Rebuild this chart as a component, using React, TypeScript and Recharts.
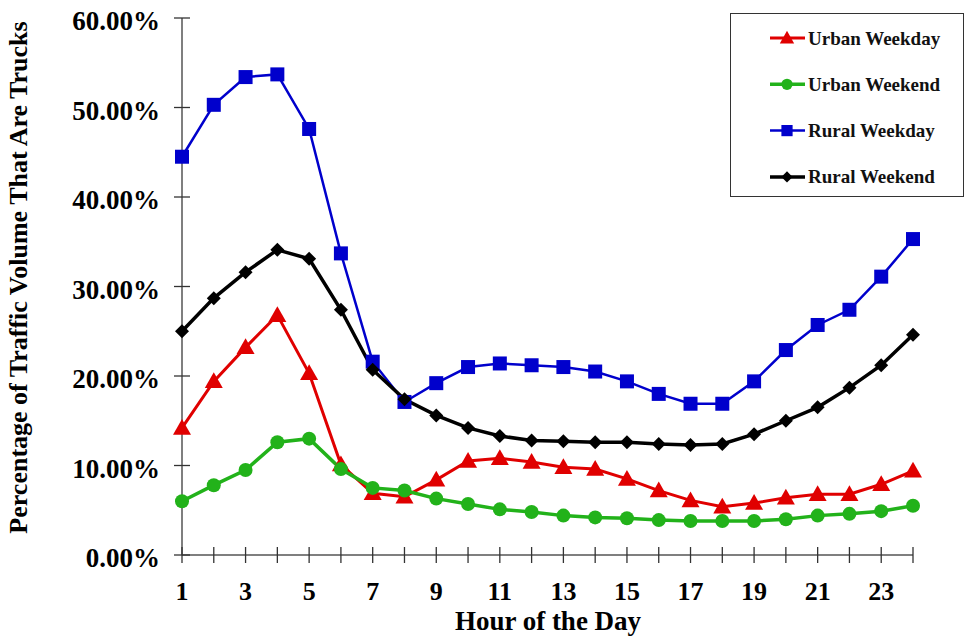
import React from 'react';
import { LineChart, Line, XAxis, YAxis } from 'recharts';

const hours = [1,2,3,4,5,6,7,8,9,10,11,12,13,14,15,16,17,18,19,20,21,22,23,24];
const urbanWeekday = [14.2,19.4,23.2,26.8,20.3,10.1,6.9,6.5,8.4,10.5,10.8,10.4,9.8,9.6,8.5,7.2,6.1,5.4,5.8,6.4,6.8,6.8,7.9,9.4];
const urbanWeekend = [6.0,7.8,9.5,12.6,13.0,9.6,7.5,7.2,6.3,5.7,5.1,4.8,4.4,4.2,4.1,3.9,3.8,3.8,3.8,4.0,4.4,4.6,4.9,5.5];
const ruralWeekday = [44.5,50.3,53.4,53.7,47.6,33.7,21.6,17.1,19.2,21.0,21.4,21.2,21.0,20.5,19.4,18.0,16.9,16.9,19.4,22.9,25.7,27.4,31.1,35.3];
const ruralWeekend = [25.0,28.7,31.6,34.1,33.1,27.4,20.7,17.4,15.6,14.2,13.3,12.8,12.7,12.6,12.6,12.4,12.3,12.4,13.5,15.0,16.5,18.7,21.2,24.6];
const yTicks = [0,10,20,30,40,50,60];

const data = hours.map((h, i) => ({
  hour: h,
  uwd: urbanWeekday[i],
  uwe: urbanWeekend[i],
  rwd: ruralWeekday[i],
  rwe: ruralWeekend[i],
}));

const FONT = '"Liberation Serif", "Times New Roman", serif';
const RED = '#e00000';
const GREEN = '#22b21a';
const BLUE = '#0000cc';
const BLACK = '#000000';

const Marker = ({ kind, cx, cy, color }: any) => {
  if (cx == null || cy == null) return null;
  if (kind === 'tri') {
    const s = 9;
    return <polygon points={`${cx},${cy - s} ${cx + s},${cy + s * 0.75} ${cx - s},${cy + s * 0.75}`} fill={color} />;
  }
  if (kind === 'circle') return <circle cx={cx} cy={cy} r={7} fill={color} />;
  if (kind === 'square') return <rect x={cx - 7} y={cy - 7} width={14} height={14} fill={color} />;
  const d = 7;
  return <polygon points={`${cx},${cy - d} ${cx + d},${cy} ${cx},${cy + d} ${cx - d},${cy}`} fill={color} />;
};

const mkDot = (kind: string, color: string) => (props: any) => (
  <Marker key={`${kind}-${props.index}`} kind={kind} cx={props.cx} cy={props.cy} color={color} />
);

const XTick = (props: any) => {
  const { x, y, payload } = props;
  const v = payload.value;
  return (
    <g>
      <line x1={x} x2={x} y1={y - 8} y2={y + 8} stroke="#333" strokeWidth={1.3} />
      {v % 2 === 1 && (
        <text x={x} y={y + 45} textAnchor="middle" fontFamily={FONT} fontWeight="bold" fontSize={26} fill="#000">
          {v}
        </text>
      )}
    </g>
  );
};

const YTick = (props: any) => {
  const { x, y, payload } = props;
  return (
    <g>
      <line x1={x - 8} x2={x + 8} y1={y} y2={y} stroke="#333" strokeWidth={1.3} />
      <text x={x - 22} y={y + 12} textAnchor="end" fontFamily={FONT} fontWeight="bold" fontSize={27} fill="#000">
        {payload.value.toFixed(2)}%
      </text>
    </g>
  );
};

const YTitle = () => (
  <text transform="translate(27 277.5) rotate(-90)" textAnchor="middle" fontFamily={FONT} fontWeight="bold" fontSize={26} fill="#000">
    Percentage of Traffic Volume That Are Trucks
  </text>
);

const XTitle = () => (
  <text x={548} y={630} textAnchor="middle" fontFamily={FONT} fontWeight="bold" fontSize={27} fill="#000">
    Hour of the Day
  </text>
);

const legendItems = [
  { label: 'Urban Weekday', kind: 'tri', color: RED, w: 3 },
  { label: 'Urban Weekend', kind: 'circle', color: GREEN, w: 3.5 },
  { label: 'Rural Weekday', kind: 'square', color: BLUE, w: 2.5 },
  { label: 'Rural Weekend', kind: 'diamond', color: BLACK, w: 3.5 },
];

const LegendBox = () => (
  <svg width={234} height={184} style={{ display: 'block' }}>
    <rect x={0.5} y={0.5} width={233} height={183} fill="#fff" stroke="#333" strokeWidth={1} />
    {legendItems.map((it, i) => {
      const cy = 25 + i * 46.3;
      return (
        <g key={it.label}>
          <line x1={40} x2={75} y1={cy} y2={cy} stroke={it.color} strokeWidth={it.w} />
          <g transform={`translate(57 ${cy}) scale(0.8) translate(-57 ${-cy})`}>
            <Marker kind={it.kind} cx={57} cy={cy} color={it.color} />
          </g>
          <text x={78} y={cy + 6.5} fontFamily={FONT} fontWeight="bold" fontSize={19} fill="#111">
            {it.label}
          </text>
        </g>
      );
    })}
  </svg>
);

export default function App() {
  return (
    <div style={{ position: 'absolute', left: 0, top: 0, width: 969, height: 638, background: '#fff' }}>
      <LineChart width={969} height={638} data={data} margin={{ top: 18, right: 56, left: 0, bottom: 0 }}>
        <XAxis
          dataKey="hour"
          type="number"
          domain={[1, 24]}
          ticks={hours}
          interval={0}
          height={83}
          tickSize={0}
          tickMargin={0}
          tickLine={false}
          axisLine={{ stroke: '#555', strokeWidth: 1.5 }}
          tick={<XTick />}
          label={{ content: () => <XTitle /> }}
        />
        <YAxis
          type="number"
          domain={[0, 60]}
          ticks={yTicks}
          interval={0}
          width={182}
          tickSize={0}
          tickMargin={0}
          tickLine={false}
          axisLine={{ stroke: '#555', strokeWidth: 1.5 }}
          tick={<YTick />}
          label={{ content: () => <YTitle /> }}
        />
        <Line dataKey="uwd" name="Urban Weekday" stroke={RED} strokeWidth={3} dot={mkDot('tri', RED)} activeDot={false} isAnimationActive={false} />
        <Line dataKey="uwe" name="Urban Weekend" stroke={GREEN} strokeWidth={3.5} dot={mkDot('circle', GREEN)} activeDot={false} isAnimationActive={false} />
        <Line dataKey="rwd" name="Rural Weekday" stroke={BLUE} strokeWidth={2.5} dot={mkDot('square', BLUE)} activeDot={false} isAnimationActive={false} />
        <Line dataKey="rwe" name="Rural Weekend" stroke={BLACK} strokeWidth={3.5} dot={mkDot('diamond', BLACK)} activeDot={false} isAnimationActive={false} />
      </LineChart>
      <div style={{ position: 'absolute', left: 730, top: 13 }}>
        <LegendBox />
      </div>
    </div>
  );
}
